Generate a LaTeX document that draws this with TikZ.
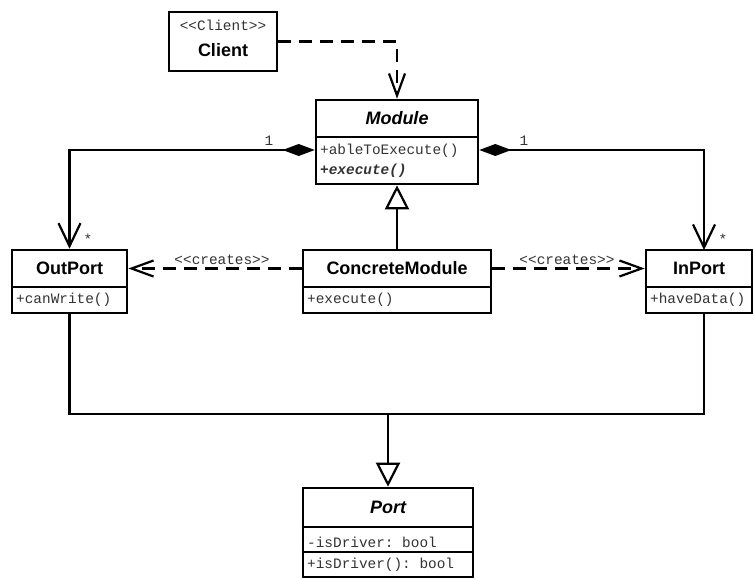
\documentclass[tikz,border=0pt]{standalone}
\usepackage{fontspec}
\setsansfont{Liberation Sans}
\setmonofont{Liberation Mono}
\usetikzlibrary{arrows.meta,calc}
\begin{document}
\begin{tikzpicture}[x=1pt,y=-1pt,
  box/.style={draw, line width=2.6pt, inner sep=0pt, fill=white},
  divider/.style={line width=2.4pt},
  cname/.style={inner sep=0pt, font=\fontsize{18}{20}\selectfont\sffamily\bfseries},
  aname/.style={inner sep=0pt, font=\fontsize{18}{20}\selectfont\sffamily\bfseries\itshape},
  op/.style={inner sep=0pt, anchor=west, text=black!80, font=\fontsize{14.4}{16}\selectfont\ttfamily},
  mono/.style={inner sep=0pt, text=black!80, font=\fontsize{14.4}{16}\selectfont\ttfamily},
  conn/.style={line width=2.2pt},
  dep/.style={conn, dash pattern=on 13pt off 8pt, -{Straight Barb[length=22pt,width=16pt]}},
  comp/.style={conn, {Diamond[length=32pt,width=12pt]}-{Straight Barb[length=23pt,width=22pt]}},
  gen/.style={conn, -{Triangle[open,length=24pt,width=24pt,fill=white]}}
]
\path[use as bounding box] (0,0) rectangle (754,579);

% Client
\node[box, minimum width=108pt, minimum height=59pt] (Client) at (223,41.5) {};
\node[mono] (ClientSt) at (223,25) {<<Client>>};
\node[cname] (ClientName) at (223,50) {Client};

% Module
\node[box, minimum width=162pt, minimum height=84pt] (Module) at (397,142) {};
\draw[divider] (Module.west |- 0,137) -- (Module.east |- 0,137);
\node[aname] (ModuleName) at (397,118.5) {Module};
\node[op] (ModuleOp1) at (320,151) {+ableToExecute()};
\node[op, font=\fontsize{14.4}{16}\selectfont\ttfamily\bfseries\itshape] (ModuleOp2) at (320,171) {+execute()};

% OutPort
\node[box, minimum width=115pt, minimum height=63pt] (OutPort) at (69.5,281.5) {};
\draw[divider] (OutPort.west |- 0,287) -- (OutPort.east |- 0,287);
\node[cname] (OutPortName) at (69.5,268.5) {OutPort};
\node[op] (OutPortOp) at (16,300) {+canWrite()};

% ConcreteModule
\node[box, minimum width=188pt, minimum height=63pt] (CM) at (397,281.5) {};
\draw[divider] (CM.west |- 0,287) -- (CM.east |- 0,287);
\node[cname] (CMName) at (397,268.5) {ConcreteModule};
\node[op] (CMOp) at (307,300) {+execute()};

% InPort
\node[box, minimum width=106pt, minimum height=63pt] (InPort) at (699,281.5) {};
\draw[divider] (InPort.west |- 0,287) -- (InPort.east |- 0,287);
\node[cname] (InPortName) at (699,268.5) {InPort};
\node[op] (InPortOp) at (650,300) {+haveData()};

% Port
\node[box, minimum width=170pt, minimum height=89pt] (Port) at (388,532.5) {};
\draw[divider] (Port.west |- 0,527) -- (Port.east |- 0,527);
\draw[line width=2pt] (Port.west |- 0,552) -- (Port.east |- 0,552);
\node[aname] (PortName) at (388,507.5) {Port};
\node[op] (PortAttr) at (307,542.5) {-isDriver: bool};
\node[op] (PortOp) at (307,565) {+isDriver(): bool};

% helper coordinates
\coordinate (ipt) at (704,250);
\coordinate (ipb) at (704,313);
\coordinate (j) at (388,414);

% connectors
\draw[dep] (Client.east) -| (Module.north);
\draw[comp] ($(Module.west)+(0,8)$) -| (OutPort.north);
\draw[comp] ($(Module.east)+(0,8)$) -| (ipt);
\draw[gen] (CM.north) -- (Module.south);
\draw[dep] (CM.west |- OutPortName) -- (OutPort.east |- OutPortName);
\draw[dep] (CM.east |- InPortName) -- (InPort.west |- InPortName);
\draw[conn] (OutPort.south) |- (j) -| (ipb);
\draw[gen] (j) -- (Port.north);

% labels
\node[mono] (m1) at (269,141) {1};
\node[mono] (m2) at (524,141) {1};
\node[mono] (s1) at (88,239) {*};
\node[mono] (s2) at (723,239) {*};
\node[mono] (cr1) at (222,260) {<<creates>>};
\node[mono] (cr2) at (567,260) {<<creates>>};
\end{tikzpicture}
\end{document}
